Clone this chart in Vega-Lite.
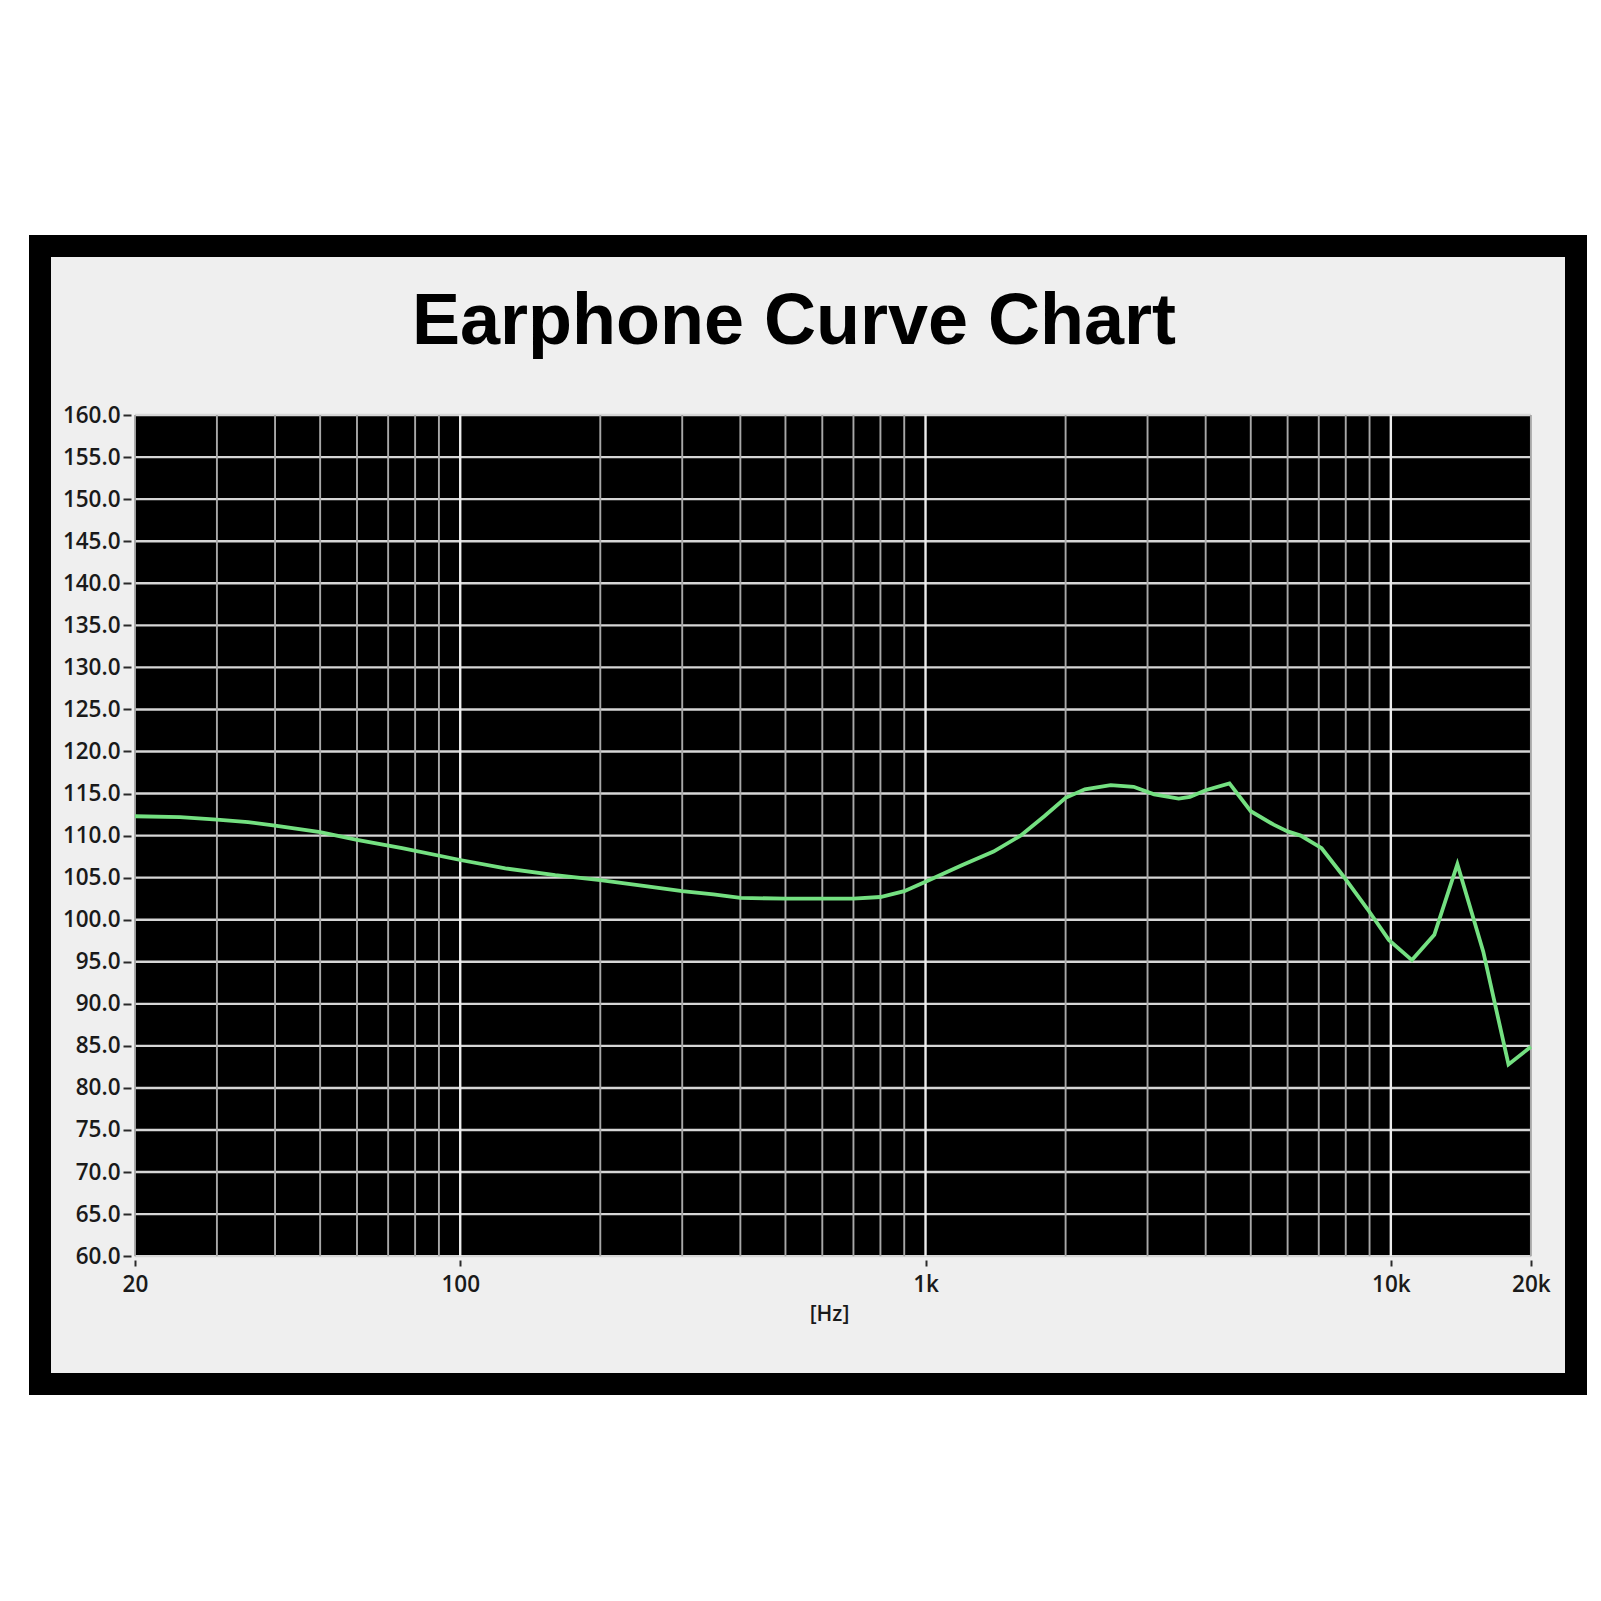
{
  "$schema": "https://vega.github.io/schema/vega-lite/v6.json",
  "width": 1536,
  "height": 1138,
  "autosize": {"type": "none"},
  "padding": {"left": 40, "top": 246, "right": 25, "bottom": 217},
  "background": "white",
  "config": {
    "view": {"fill": "#efefef", "stroke": "#000000", "strokeWidth": 22},
    "axis": {"labelFont": "Open Sans", "labelFontWeight": 600, "labelFontSize": 22.5, "labelColor": "#1a1a1a", "tickColor": "#2a2a2a", "tickWidth": 2, "grid": false, "domain": false, "zindex": 1}
  },
  "title": {
    "text": "Earphone Curve Chart",
    "font": "Liberation Sans",
    "fontSize": 72,
    "fontWeight": "bold",
    "color": "#000000",
    "frame": "group",
    "anchor": "middle",
    "baseline": "alphabetic",
    "offset": 0,
    "dy": 170,
    "dx": -14
  },
  "datasets": {
    "curve": [
      {"f": 20, "db": 112.3}, {"f": 25, "db": 112.2}, {"f": 30, "db": 111.9}, {"f": 35, "db": 111.6},
      {"f": 40, "db": 111.2}, {"f": 50, "db": 110.4}, {"f": 60, "db": 109.5}, {"f": 75, "db": 108.5},
      {"f": 100, "db": 107.1}, {"f": 125, "db": 106.1}, {"f": 160, "db": 105.3}, {"f": 200, "db": 104.7},
      {"f": 250, "db": 104.0}, {"f": 300, "db": 103.4}, {"f": 350, "db": 103.0}, {"f": 400, "db": 102.6},
      {"f": 500, "db": 102.5}, {"f": 600, "db": 102.5}, {"f": 700, "db": 102.5}, {"f": 800, "db": 102.7},
      {"f": 900, "db": 103.4}, {"f": 1000, "db": 104.5}, {"f": 1200, "db": 106.5}, {"f": 1400, "db": 108.1},
      {"f": 1600, "db": 110.0}, {"f": 1800, "db": 112.3}, {"f": 2000, "db": 114.5}, {"f": 2200, "db": 115.5},
      {"f": 2500, "db": 116.0}, {"f": 2800, "db": 115.8}, {"f": 3100, "db": 114.9}, {"f": 3500, "db": 114.4},
      {"f": 3700, "db": 114.6}, {"f": 4000, "db": 115.4}, {"f": 4500, "db": 116.2}, {"f": 5000, "db": 112.9},
      {"f": 5600, "db": 111.3}, {"f": 6000, "db": 110.5}, {"f": 6400, "db": 110.0}, {"f": 7100, "db": 108.5},
      {"f": 7900, "db": 105.2}, {"f": 8900, "db": 101.3}, {"f": 9900, "db": 97.6}, {"f": 11100, "db": 95.2},
      {"f": 12400, "db": 98.2}, {"f": 13900, "db": 106.6}, {"f": 15800, "db": 96.2}, {"f": 17900, "db": 82.8},
      {"f": 20000, "db": 84.9}
    ],
    "hgrid": [
      {"db": 60}, {"db": 65}, {"db": 70}, {"db": 75}, {"db": 80}, {"db": 85}, {"db": 90}, {"db": 95},
      {"db": 100}, {"db": 105}, {"db": 110}, {"db": 115}, {"db": 120}, {"db": 125}, {"db": 130},
      {"db": 135}, {"db": 140}, {"db": 145}, {"db": 150}, {"db": 155}, {"db": 160}
    ],
    "vgrid": [
      {"f": 20}, {"f": 30}, {"f": 40}, {"f": 50}, {"f": 60}, {"f": 70}, {"f": 80}, {"f": 90},
      {"f": 100}, {"f": 200}, {"f": 300}, {"f": 400}, {"f": 500}, {"f": 600}, {"f": 700}, {"f": 800}, {"f": 900},
      {"f": 1000}, {"f": 2000}, {"f": 3000}, {"f": 4000}, {"f": 5000}, {"f": 6000}, {"f": 7000}, {"f": 8000}, {"f": 9000},
      {"f": 10000}, {"f": 20000}
    ]
  },
  "layer": [
    {
      "data": {"values": [{}]},
      "mark": {"type": "rect", "fill": "#000000"},
      "encoding": {
        "x": {"datum": 20, "type": "quantitative", "scale": {"type": "log", "domain": [12.5, 25000], "nice": false}},
        "x2": {"datum": 20000},
        "y": {"datum": 60, "type": "quantitative", "scale": {"domain": [44.8, 180.1], "nice": false, "zero": false}},
        "y2": {"datum": 160}
      }
    },
    {
      "data": {"name": "hgrid"},
      "mark": {"type": "rule", "stroke": "#d6d6d6", "strokeWidth": 2.4},
      "encoding": {
        "y": {"field": "db", "type": "quantitative", "scale": {"domain": [44.8, 180.1], "nice": false, "zero": false}},
        "x": {"datum": 20, "type": "quantitative", "scale": {"type": "log", "domain": [12.5, 25000], "nice": false}},
        "x2": {"datum": 20000}
      }
    },
    {
      "data": {"name": "vgrid"},
      "mark": {"type": "rule"},
      "encoding": {
        "x": {"field": "f", "type": "quantitative", "scale": {"type": "log", "domain": [12.5, 25000], "nice": false}},
        "y": {"datum": 60, "type": "quantitative", "scale": {"domain": [44.8, 180.1], "nice": false, "zero": false}},
        "y2": {"datum": 160},
        "color": {"condition": {"test": "datum.f == 100 || datum.f == 1000 || datum.f == 10000", "value": "#ececec"}, "value": "#a8a8a8"},
        "strokeWidth": {"condition": {"test": "datum.f == 100 || datum.f == 1000 || datum.f == 10000", "value": 2.4}, "value": 1.9}
      }
    },
    {
      "data": {"name": "curve"},
      "mark": {"type": "line", "color": "#74e081", "strokeWidth": 3.8, "interpolate": "linear"},
      "encoding": {
        "x": {
          "field": "f", "type": "quantitative",
          "scale": {"type": "log", "domain": [12.5, 25000], "nice": false},
          "axis": {
            "values": [20, 100, 1000, 10000, 20000],
            "labelExpr": "datum.value == 20 ? '20' : datum.value == 100 ? '100' : datum.value == 1000 ? '1k' : datum.value == 10000 ? '10k' : '20k'",
            "offset": -124,
            "tickSize": 6,
            "labelPadding": 7,
            "labelFlush": false,
            "labelOverlap": false,
            "title": "[Hz]",
            "titleFont": "Open Sans",
            "titleFontWeight": 600,
            "titleFontSize": 21,
            "titleColor": "#1a1a1a",
            "titlePadding": 8,
            "titleX": 789
          }
        },
        "y": {
          "field": "db", "type": "quantitative",
          "scale": {"domain": [44.8, 180.1], "nice": false, "zero": false},
          "axis": {
            "values": [60, 65, 70, 75, 80, 85, 90, 95, 100, 105, 110, 115, 120, 125, 130, 135, 140, 145, 150, 155, 160],
            "format": ".1f",
            "offset": -91,
            "tickSize": 8,
            "labelPadding": 3,
            "title": null
          }
        }
      }
    }
  ]
}
